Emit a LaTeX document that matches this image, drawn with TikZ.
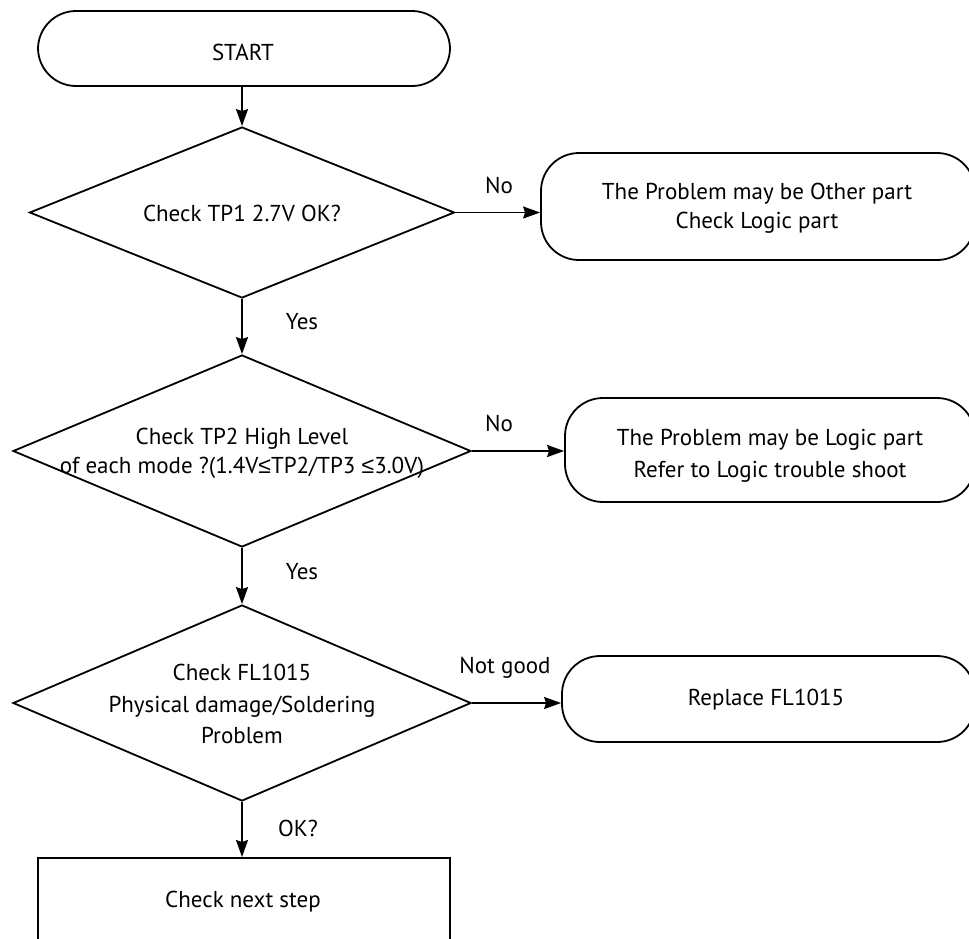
\documentclass[tikz,border=0pt]{standalone}
\usepackage{fontspec}
\setmainfont{PT Sans}
\newfontfamily\symfont{Liberation Sans}
\usetikzlibrary{shapes.geometric,arrows.meta}
\begin{document}
\begin{tikzpicture}[x=1pt,y=-1pt,
  every node/.style={font=\fontsize{23}{29}\selectfont},
  term/.style={draw, line width=1.8pt, rounded corners=38pt, align=center, inner sep=0pt},
  proc/.style={draw, line width=1.8pt, inner sep=0pt},
  dec/.style={draw, diamond, line width=1.8pt, inner sep=0pt},
  txt/.style={align=center, inner sep=0pt},
  arr/.style={line width=1.8pt, -{Stealth[length=17pt,width=12pt,inset=2pt]}},
  lbl/.style={inner sep=0pt}
]
\useasboundingbox (0,0) rectangle (969,938);
\clip (0,0) rectangle (969,938);

\node[term, minimum width=412pt, minimum height=75pt] (start) at (244,48.5) {};
\node[txt] (starttext) at (243,52) {START};

\node[dec, minimum width=425pt, minimum height=171pt] (d1) at (242,212.5) {};
\node[txt] (d1text) at (242,213) {Check TP1 2.7V OK?};

\node[dec, minimum width=458pt, minimum height=192pt] (d2) at (242,451) {};
\node[txt] (d2text) at (242,453) {Check TP2 High Level\\of each mode ?(1.4V{\symfont ≤}TP2/TP3 {\symfont ≤}3.0V)};

\node[dec, minimum width=458pt, minimum height=196pt] (d3) at (242,703) {};
\node[txt, font=\fontsize{23}{31.5}\selectfont] (d3text) at (242,704) {Check FL1015\\Physical damage/Soldering\\Problem};

\node[proc, minimum width=412pt, minimum height=100pt, anchor=north] (next) at (244,857) {};
\node[txt] (nexttext) at (243,902) {Check next step};

\node[term, minimum width=434pt, minimum height=107pt] (b1) at (758,206.5) {};
\node[txt] (b1text) at (757,208.5) {The Problem may be Other part\\Check Logic part};
\node[term, minimum width=410pt, minimum height=104pt] (b2) at (770,450) {};
\node[txt, font=\fontsize{23}{32}\selectfont] (b2text) at (770,456) {The Problem may be Logic part\\Refer to Logic trouble shoot};
\node[term, minimum width=413pt, minimum height=86pt] (b3) at (768.5,699) {};
\node[txt] (b3text) at (766,700) {Replace FL1015};

\draw[arr] (d1.north |- start.south) -- (d1.north);
\draw[arr] (d1.south) -- (d2.north);
\draw[arr] (d2.south) -- (d3.north);
\draw[arr] (d3.south) -- (d3.south |- next.north);
\draw[arr] (d1.east) -- (d1.east -| b1.west);
\draw[arr] (d2.east) -- (d2.east -| b2.west);
\draw[arr] (d3.east) -- (d3.east -| b3.west);

\node[lbl] (no1) at (499,185) {No};
\node[lbl] (no2) at (499,423) {No};
\node[lbl] (ng) at (505,668) {Not good};
\node[lbl] (yes1) at (302,322) {Yes};
\node[lbl] (yes2) at (302,572) {Yes};
\node[lbl] (ok) at (298,828) {OK?};
\end{tikzpicture}
\end{document}
